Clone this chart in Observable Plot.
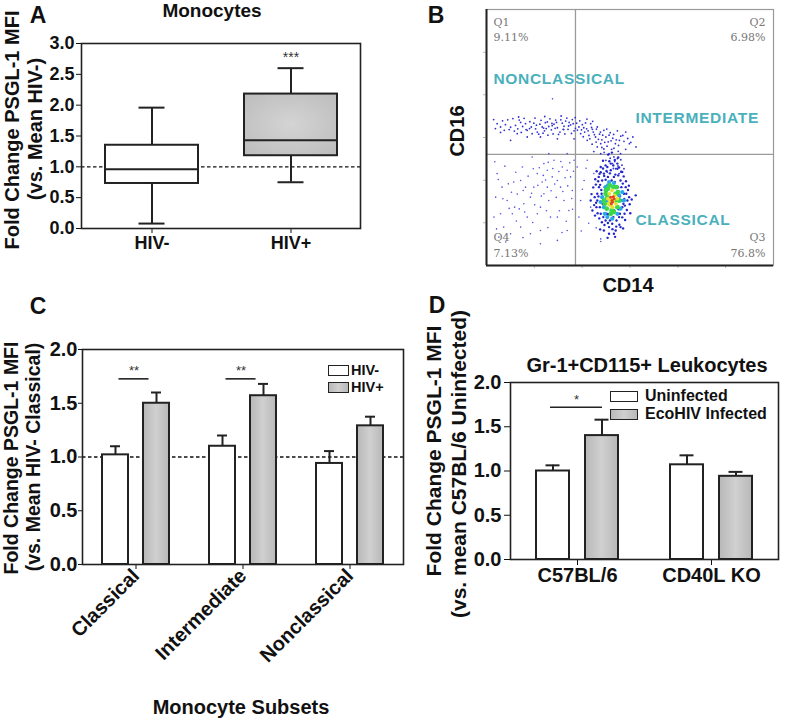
<!DOCTYPE html>
<html>
<head>
<meta charset="utf-8">
<script src="https://cdn.jsdelivr.net/npm/d3@7"></script>
<script src="https://cdn.jsdelivr.net/npm/@observablehq/plot@0.6"></script>
<style>
  body { margin: 0; background: #fff; font-family: "Liberation Sans", Arial, sans-serif; color: #111; }
  #root { position: relative; width: 791px; height: 720px; overflow: hidden; background: #fff; }
  .t { position: absolute; white-space: nowrap; font-weight: bold; line-height: 1; transform: translate(-50%, -50%); }
  .rot { transform: translate(-50%, -50%) rotate(-90deg); }
  .lt { position: absolute; white-space: nowrap; font-weight: bold; line-height: 1; transform: translate(0, -50%); }
  .box { position: absolute; border: 1.6px solid #222; box-sizing: border-box; }
  g.teal text { letter-spacing: 0.7px; }
</style>
</head>
<body>
<svg width="0" height="0" style="position:absolute">
  <defs>
    <linearGradient id="barGrad" x1="0" x2="1" y1="0" y2="0">
      <stop offset="0" stop-color="#b8b8b8"/>
      <stop offset="0.5" stop-color="#d0d0d0"/>
      <stop offset="1" stop-color="#b8b8b8"/>
    </linearGradient>
    <radialGradient id="boxGrad" cx="0.5" cy="0.5" r="0.7">
      <stop offset="0" stop-color="#d4d4d4"/>
      <stop offset="1" stop-color="#bcbcbc"/>
    </radialGradient>
  </defs>
</svg>
<div id="root"></div>
<script>
// ---------------- DATA ----------------
// Panel A: box plot summary (Monocytes)
const groupsA = ["HIV-", "HIV+"];
const whiskerLowA = [0.08, 0.75];
const q1A = [0.73, 1.18];
const medianA = [0.96, 1.43];
const q3A = [1.35, 2.18];
const whiskerHighA = [1.96, 2.60];
const yTicksA = [0, 0.5, 1, 1.5, 2, 2.5, 3];
const sigGroupA = ["HIV+"];
const sigLabelA = ["***"];
const sigLevelA = [2.78];

// Panel B: flow cytometry (CD14 vs CD16), arbitrary units 0-100
const gateXB = 31;
const gateYB = 43.4;
const ticksB = [16.7, 33.3, 50, 66.7, 83.3];
const quadNamesB = ["Q1", "Q2", "Q3", "Q4"];
const quadPctB = ["9.11%", "6.98%", "76.8%", "7.13%"];
const subsetNamesB = ["NONCLASSICAL", "INTERMEDIATE", "CLASSICAL"];
const blueBandB = [[3.7,55.4],[4.9,54.1],[6.6,55],[8.4,54],[10.1,54.7],[10.9,53.4],[11.9,55.9],[13.6,55.4],[14.2,52.8],[15.6,54.1],[16.5,55.6],[17.1,53.4],[17.7,52.1],[18.6,55.2],[19.4,54.1],[20.2,52.6],[21.2,56.1],[21.7,54.3],[22.6,53],[23.5,55.2],[24.1,56.8],[24.7,53.8],[25.6,52.1],[26.4,55.6],[27,54.4],[27.6,56.4],[28.4,53.2],[29.3,54.9],[29.9,57],[30.5,52.6],[31.4,55.6],[32.2,54.1],[32.8,51.5],[33.4,55],[34.2,52.1],[34.9,53.4],[35.7,50.8],[36.3,55.4],[37.2,52.1],[38,50.2],[38.6,54.1],[39.4,51.3],[40.2,49.1],[40.9,52.8],[41.6,50.2],[42.4,48.3],[43.1,51.9],[44,49.7],[44.9,47.6],[45.6,52.6],[46.3,48.9],[47.5,50.8],[48.5,52.1],[49.8,47.6],[51,50.2],[52.1,46.3],[14.2,50.2],[18.8,50.2],[24.7,49.5],[10.7,51.5],[8.4,48.9],[4.9,52],[35.1,48.9],[30.5,49.5],[38.6,46.3],[40.9,45.5],[44.4,45.8],[42.7,43.7],[39.8,47.6],[46.7,43.7],[45.6,41.8],[43.9,39.8],[41.6,41.1],[45,37.8],[46.2,35.9],[42.1,36.5],[39.8,43.7],[37.4,44.5],[47.9,37.8],[44.4,42.4],[20.5,55.8],[22.9,54.6],[26.9,53.1],[28.8,55.9],[31,53.6],[33.9,53.8],[36.9,53.2],[19.9,53.7],[15,53.5],[12.6,54.3],
  [2.5,57],[3.1,53.5],[5.6,56.5],[6.2,52.8],[7.4,56.9],[7.9,53.1],[9.2,57.4],[9.7,52.5],[11.4,56.8],[12.1,52],[13.1,57.5],[13.8,53.1],[15.1,56.2],[15.9,51.5],[16.9,57.6],[17.4,54.8],[18.2,51.3],[19,56.7],[19.7,51.7],[20.8,53.5],[21.4,50.9],[22.1,57.3],[22.8,55.5],[23.2,51.4],[23.9,53.6],[24.4,55.9],[25.1,51.2],[25.9,56.9],[26.7,53.2],[27.3,51.4],[28,57.6],[28.6,54.5],[29.6,51.6],[30.2,55.4],[30.9,57.8],[31.7,52.9],[32.5,56.5],[33.1,53],[33.7,50.3],[34.5,55.7],[35.4,52.6],[36,49.5],[36.6,53.9],[37.6,51.1],[38.3,53.3],[39,49.3],[39.7,52.1],[40.5,50.9],[41.2,48.1],[41.9,53.3],[42.7,50.9],[43.4,48.7],[44.3,51.2],[45.2,49.1],[46,46.9],[46.8,50.5],[47.9,48.5],[49.2,49.6],[50.3,48.1],[42,46.6],[43.6,45.4],[45.9,44.6],[41,44.2],[44.7,40.6],[46.8,41.3],[43.1,41.9],[45.8,38.9],[44.2,37.9],[47.2,39.2],[40.2,46.1],[38.2,48.2],[36.8,47.4],[48.5,45.4],[37,56.3],[35,57.2],[26,58.4],[20.3,58.2],[11.2,58]];
const blueLowB = [[3.7,35.9],[5.4,30.6],[7.2,25.4],[9,20.2],[10.7,27.9],[11.9,33.2],[13,24.1],[14.2,18.9],[15.3,26.7],[16.5,30.6],[17.7,35.9],[18.8,22.8],[20,39.8],[21.2,30.6],[21.7,25.4],[22.9,34.6],[23.5,41.1],[24.7,18.9],[25.8,30.6],[27,25.4],[28.1,37.2],[28.7,21.5],[29.9,29.3],[30.5,41.1],[21.2,37.2],[19.4,32.6],[16.3,37.8],[12.5,38.5],[9.8,22.8],[6,15],[4.9,20.2],[3.2,26.7],[8.4,12.4],[11.9,15],[18.8,13.7],[24.7,9.8],[28.1,13.7],[22.3,18.9],[15.3,12.4],[20,28],[24.7,33.2],[26.4,38.5],[29.3,34.6],[17.7,20.2],[13.6,30.6],[9.5,32.6],[2.6,18.9],[4.3,11.1],[18.8,8.5],[39.8,10.4],[39.8,9.4],[34,33.2],[32.8,25.4],[35.1,41.1],[37.4,35.9],[32.2,18.9],[36.3,22.8],[23.0,65.1],[21.7,43.7],[15.9,42.4],[28.1,43.7],[31.6,38.5],
  [2.9,40.5],[4.1,33.6],[6.4,38.8],[7.6,31.9],[8.7,28.6],[10.2,36.4],[11.4,22.1],[12.8,29.3],[14.5,34.9],[15.7,28.2],[16.8,23.7],[17.9,31.3],[18.4,38.2],[19.1,27.1],[19.8,35.2],[20.6,33.4],[21.5,40.3],[22.5,29.2],[23.1,37.9],[23.8,31.8],[24.3,26.6],[25.2,36.7],[25.9,40.6],[26.6,28.9],[27.4,34.3],[28.3,31.1],[29,40.1],[29.7,26.2],[30.3,36.8],[27.8,17.3],[25.4,21.4],[20.9,21.4],[16.1,16.8],[13.3,20.9],[10.4,17.4],[7.9,22.3],[5.7,26.1],[3.5,14.3],[6.7,9.2],[12.7,10.9],[21.4,14.8],[26.3,12.9],[30,22],[33.4,29.8],[35.6,16.5],[34.7,38],[33,13.5],[38.2,14.7]];
const blueClusterB = [[39.2,30.6],[38.6,25.4],[39.8,20.2],[40.3,33.2],[40.9,35.9],[41.5,17.6],[42.1,38.5],[42.7,15],[43.3,37.2],[43.8,16.3],[44.4,34.6],[45,13.7],[45.6,37.8],[46.2,18.9],[46.7,33.2],[47.3,22.8],[47.9,28],[48.5,30.6],[49.1,25.4],[49.7,26.7],[38.6,28],[39.5,22.8],[40.1,28],[40.7,18.9],[41.2,30.6],[41.9,20.2],[42.3,34.6],[43,17.6],[43.6,33.2],[44.2,18.9],[44.7,32.6],[45.3,17.6],[45.8,30.6],[46.5,20.2],[47,30.6],[47.7,24.1],[48.1,20.2],[48.7,28],[37.7,26.7],[38.3,22.8],[40.9,13.7],[44.4,12.4],[42.7,12.4],[46.7,15],[45.9,35.2],[39.8,38.5],[41.5,39.1],[43.3,39.8],[45.6,39.8],[47.3,36.5],[52,27.4],[36.9,21.5],[36.3,25.4],[39,27],[39.6,31.5],[40.5,24],[41,35],[46.5,27],[47.5,32],[46,22],[42.5,20],[44.5,21.5],[40,29.5],[48,26],[43,36],[44.9,35.5],[41.5,33.5],[47.2,25.5],[38.2,24.5],
  [37.2,30.5],[37.9,33.7],[38.4,36.8],[39.1,34.6],[39.8,36.4],[40.6,40.9],[41.8,36.9],[42.8,40.7],[44.2,39.1],[46.2,38.3],[47.8,34.8],[48.6,32.9],[49.3,29.5],[49.9,23.9],[48.9,21.7],[48.3,17.8],[47.3,18.8],[46.3,15.9],[45.2,15.2],[43.9,14.2],[42.3,16.6],[41.1,15.8],[40.2,16.9],[39.3,18.4],[38.7,20.4],[37.5,23.6],[37.8,19.5],[36.6,27.9],[38.1,31.6],[40.6,37.9],[44.7,41.2],[46.9,36.6],[49.6,31.2],[50.6,25.8],[50.1,20.4],[47.6,14.5],[44.8,11.2],[42.2,10.8],[39.6,14.1],[38.9,32.9],[48.2,23.4],[39.4,35.8],[45.9,42.2],[42.4,43.3],[43.7,44.1]];
const cyanB = [[40.3,26.7],[40.9,22.8],[41.5,30.6],[42.1,18.9],[42.7,32.6],[43.8,18.3],[45,30.6],[45.6,20.2],[46.7,25.4],[47.3,28.7],[39.8,24.8],[46.2,27.4],[44.4,32.2],[41.2,20.2],[42.3,31.3],[47.9,25.4],[41.9,25.4],[46.7,22.2]];
const greenB = [[40.9,25.4],[41.5,28],[41.9,22.2],[42.3,30],[43,31.3],[43.3,20.2],[44.2,30.6],[44.4,20.9],[45,28],[45.6,22.8],[46.2,25.4],[41.2,24.1],[42.1,26.7],[45,25.4],[43.6,21.5],[42.9,24.1],[45.8,28.7],[45.3,30.6],[41.6,29.3]];
const yellowB = [[42.3,26.1],[42.8,28],[43.3,23.5],[43.7,29.3],[44.2,25.4],[44.7,27.4],[45.1,24.1],[45.6,26.1],[43,25.4],[43.9,22.8],[42.6,24.1]];
const redB = [[43.3,26.7],[43.7,25.4],[44.2,26.9],[43.9,24.8],[43.5,24.1],[44.4,26.1]];

// Panel C: grouped bars (mean and SEM)
const subsetsC = ["Classical", "Intermediate", "Nonclassical"];
const statusC = ["HIV-", "HIV+"];
const hivNegMeanC = [1.02, 1.10, 0.94];
const hivNegSemC = [0.08, 0.10, 0.115];
const hivPosMeanC = [1.50, 1.57, 1.29];
const hivPosSemC = [0.10, 0.11, 0.085];
const yTicksC = [0, 0.5, 1, 1.5, 2];
const sigSubsetC = ["Classical", "Intermediate"];
const sigLabelC = ["**", "**"];
const sigLevelC = [1.727, 1.727];

// Panel D: grouped bars (mean and SEM)
const strainsD = ["C57BL/6", "CD40L KO"];
const statusD = ["Uninfected", "EcoHIV Infected"];
const uninfMeanD = [1.00, 1.07];
const uninfSemD = [0.064, 0.107];
const infMeanD = [1.40, 0.94];
const infSemD = [0.18, 0.05];
const yTicksD = [0, 0.5, 1, 1.5, 2];
const sigStrainD = ["C57BL/6"];
const sigLabelD = ["*"];
const sigLevelD = [1.72];

// ---------------- HELPERS ----------------
const root = document.getElementById("root");
function place(node, left, top) {
  node.style.position = "absolute";
  node.style.left = left + "px";
  node.style.top = top + "px";
  root.appendChild(node);
}
function label(text, x, y, size, cls = "t", extra = {}) {
  const d = document.createElement("div");
  d.className = cls;
  d.textContent = text;
  d.style.left = x + "px";
  d.style.top = y + "px";
  d.style.fontSize = size + "px";
  Object.assign(d.style, extra);
  root.appendChild(d);
  return d;
}
function legendBox(x, y, w, h, fill) {
  const d = document.createElement("div");
  d.className = "box";
  Object.assign(d.style, { left: x + "px", top: y + "px", width: w + "px", height: h + "px", background: fill });
  root.appendChild(d);
}
// insets that put a bar/tick of half-width `half` at `offset` px from the band centre
function at(band, offset, half) {
  return { insetLeft: band / 2 + offset - half, insetRight: band / 2 - offset - half };
}
const baseStyle = { fontFamily: "'Liberation Sans', Arial, sans-serif", fontWeight: "bold", color: "#111", background: "transparent", overflow: "visible" };
const GRAY = "url(#barGrad)";
const GRAY_FLAT = "linear-gradient(90deg,#b8b8b8,#d0d0d0,#b8b8b8)";

// ---------------- PANEL A ----------------
const boxesA = groupsA.map((g, i) => ({ group: g, lo: whiskerLowA[i], q1: q1A[i], med: medianA[i], q3: q3A[i], hi: whiskerHighA[i] }));
const sigA = sigGroupA.map((g, i) => ({ group: g, label: sigLabelA[i], y: sigLevelA[i] }));
const bandA = 93, capA = 13;
const plotA = Plot.plot({
  width: 370, height: 260,
  marginLeft: 81, marginRight: 10, marginTop: 43, marginBottom: 32,
  style: { ...baseStyle, fontSize: "18px" },
  x: { type: "band", domain: groupsA, paddingInner: 1 / 3, paddingOuter: 1 / 6, label: null, tickSize: 5, tickPadding: 3 },
  y: { domain: [0, 3], ticks: yTicksA, tickFormat: d3.format(".1f"), tickSize: 5, tickPadding: 2, label: null },
  color: { domain: groupsA, range: ["#ffffff", "url(#boxGrad)"] },
  marks: [
    Plot.ruleY([1], { stroke: "#111", strokeWidth: 1.4, strokeDasharray: "3.5,2.5" }),
    Plot.ruleX(boxesA, { x: "group", y1: "lo", y2: "q1", stroke: "#222", strokeWidth: 2 }),
    Plot.ruleX(boxesA, { x: "group", y1: "q3", y2: "hi", stroke: "#222", strokeWidth: 2 }),
    Plot.tickY(boxesA, { x: "group", y: "lo", stroke: "#222", strokeWidth: 2, ...at(bandA, 0, capA) }),
    Plot.tickY(boxesA, { x: "group", y: "hi", stroke: "#222", strokeWidth: 2, ...at(bandA, 0, capA) }),
    Plot.barY(boxesA, { x: "group", y1: "q1", y2: "q3", fill: "group", stroke: "#222", strokeWidth: 2 }),
    Plot.tickY(boxesA, { x: "group", y: "med", stroke: "#222", strokeWidth: 2 }),
    Plot.text(sigA, { x: "group", y: "y", text: "label", fontSize: 14, fontWeight: "normal", fill: "#333" }),
    Plot.frame({ stroke: "#222", strokeWidth: 1.6 })
  ]
});
place(plotA, 0, 0);

// ---------------- PANEL B ----------------
const toPts = (arr) => arr.map(([x, y]) => ({ x, y }));
const qText = { fill: "#777", fontFamily: "DejaVu Serif", fontSize: 11, fontWeight: "normal" };
const plotB = Plot.plot({
  width: 391, height: 300,
  marginLeft: 86, marginRight: 18, marginTop: 9, marginBottom: 35,
  style: { ...baseStyle, fontSize: "12px", fontWeight: "normal" },
  x: { domain: [0, 100] },
  y: { domain: [0, 100] },
  marks: [
    Plot.frame({ stroke: "#9a9a9a", strokeWidth: 1.2 }),
    Plot.axisX({ ticks: ticksB, tickSize: 3, tickFormat: () => "", stroke: "#bbb", label: null }),
    Plot.axisY({ ticks: ticksB, tickSize: 3, tickFormat: () => "", stroke: "#bbb", label: null }),
    Plot.ruleX([gateXB], { stroke: "#9a9a9a", strokeWidth: 1.3 }),
    Plot.ruleY([gateYB], { stroke: "#9a9a9a", strokeWidth: 1.3 }),
    Plot.dot(toPts(blueBandB), { x: "x", y: "y", r: 0.9, fill: "#3030d4", stroke: null }),
    Plot.dot(toPts(blueLowB), { x: "x", y: "y", r: 0.8, fill: "#5050e4", stroke: null }),
    Plot.dot(toPts(blueClusterB), { x: "x", y: "y", r: 1.2, fill: "#2424cc", stroke: null }),
    Plot.dot(toPts(cyanB), { x: "x", y: "y", r: 2.1, fill: "#2aa8e8", stroke: null }),
    Plot.dot(toPts(greenB), { x: "x", y: "y", r: 2.4, fill: "#3cd84a", stroke: null }),
    Plot.dot(toPts(yellowB), { x: "x", y: "y", r: 1.9, fill: "#e8e030", stroke: null }),
    Plot.dot(toPts(redB), { x: "x", y: "y", r: 1.5, fill: "#e8401c", stroke: null }),
    Plot.ruleX([0], { stroke: "#222", strokeWidth: 2 }),
    Plot.ruleY([0], { stroke: "#222", strokeWidth: 2 }),
    Plot.text([quadNamesB[0]], { frameAnchor: "top-left", dx: 7, dy: 9, ...qText }),
    Plot.text([quadPctB[0]], { frameAnchor: "top-left", dx: 7, dy: 24, ...qText }),
    Plot.text([quadNamesB[1]], { frameAnchor: "top-right", dx: -8, dy: 9, textAnchor: "end", ...qText }),
    Plot.text([quadPctB[1]], { frameAnchor: "top-right", dx: -8, dy: 24, textAnchor: "end", ...qText }),
    Plot.text([quadNamesB[2]], { frameAnchor: "bottom-right", dx: -8, dy: -25, textAnchor: "end", ...qText }),
    Plot.text([quadPctB[2]], { frameAnchor: "bottom-right", dx: -8, dy: -9, textAnchor: "end", ...qText }),
    Plot.text([quadNamesB[3]], { frameAnchor: "bottom-left", dx: 7, dy: -25, ...qText }),
    Plot.text([quadPctB[3]], { frameAnchor: "bottom-left", dx: 7, dy: -9, ...qText }),
    Plot.text([{ t: subsetNamesB[0], x: 2.4, y: 73 }, { t: subsetNamesB[1], x: 51.9, y: 57.8 }, { t: subsetNamesB[2], x: 51.9, y: 17.6 }],
      { x: "x", y: "y", text: "t", textAnchor: "start", fill: "#4ab0bc", fontSize: 15.5, fontWeight: "bold", fontFamily: "'Liberation Sans', Arial, sans-serif" })
  ]
});
plotB.querySelectorAll("g[fill='#4ab0bc']").forEach(g => g.setAttribute("class", (g.getAttribute("class") || "") + " teal"));
place(plotB, 400, 0);

// ---------------- PANEL C ----------------
const rowsC = subsetsC.flatMap((s, i) => [
  { subset: s, status: statusC[0], mean: hivNegMeanC[i], sem: hivNegSemC[i] },
  { subset: s, status: statusC[1], mean: hivPosMeanC[i], sem: hivPosSemC[i] }
]);
const sigC = sigSubsetC.map((s, i) => ({ subset: s, label: sigLabelC[i], y: sigLevelC[i] }));
const bandC = 107, offC = 20.5, halfC = 13, capC = 5;
const negC = rowsC.filter(d => d.status === statusC[0]);
const posC = rowsC.filter(d => d.status === statusC[1]);
const errMarks = (rows, xKey, band, off, cap) => [
  Plot.ruleX(rows, { x: xKey, y1: "mean", y2: d => d.mean + d.sem, dx: off, stroke: "#222", strokeWidth: 2 }),
  Plot.tickY(rows, { x: xKey, y: d => d.mean + d.sem, stroke: "#222", strokeWidth: 2, ...at(band, off, cap) })
];
const plotC = Plot.plot({
  width: 410, height: 420,
  marginLeft: 82, marginRight: 7, marginTop: 49, marginBottom: 156,
  style: { ...baseStyle, fontSize: "20px" },
  x: { type: "band", domain: subsetsC, padding: 0, label: null, tickSize: 5, tickPadding: 3, tickRotate: -45 },
  y: { domain: [0, 2], ticks: yTicksC, tickFormat: d3.format(".1f"), tickSize: 4, tickPadding: 1, label: null },
  color: { domain: statusC, range: ["#ffffff", GRAY] },
  marks: [
    Plot.ruleY([1], { stroke: "#111", strokeWidth: 1.4, strokeDasharray: "3.5,2.5" }),
    ...errMarks(negC, "subset", bandC, -offC, capC),
    ...errMarks(posC, "subset", bandC, offC, capC),
    Plot.barY(negC, { x: "subset", y: "mean", fill: "status", stroke: "#222", strokeWidth: 2, ...at(bandC, -offC, halfC) }),
    Plot.barY(posC, { x: "subset", y: "mean", fill: "status", stroke: "#222", strokeWidth: 2, ...at(bandC, offC, halfC) }),
    Plot.tickY(sigC, { x: "subset", y: "y", stroke: "#222", strokeWidth: 1.6, ...at(bandC, -2, 15) }),
    Plot.text(sigC, { x: "subset", y: "y", text: "label", dx: -2, dy: -8, fontSize: 13, fontWeight: "normal", fill: "#333" }),
    Plot.frame({ stroke: "#222", strokeWidth: 1.6 })
  ]
});
place(plotC, 0, 300);

// ---------------- PANEL D ----------------
const rowsD = strainsD.flatMap((s, i) => [
  { strain: s, status: statusD[0], mean: uninfMeanD[i], sem: uninfSemD[i] },
  { strain: s, status: statusD[1], mean: infMeanD[i], sem: infSemD[i] }
]);
const sigD = sigStrainD.map((s, i) => ({ strain: s, label: sigLabelD[i], y: sigLevelD[i] }));
const bandD = 134, offD = 24.5, halfD = 16.5, capD = 7;
const uninfD = rowsD.filter(d => d.status === statusD[0]);
const infD = rowsD.filter(d => d.status === statusD[1]);
const plotD = Plot.plot({
  width: 391, height: 300,
  marginLeft: 110, marginRight: 13, marginTop: 82, marginBottom: 41,
  style: { ...baseStyle, fontSize: "20px" },
  x: { type: "band", domain: strainsD, padding: 0, label: null, tickSize: 6, tickPadding: 2 },
  y: { domain: [0, 2], ticks: yTicksD, tickFormat: d3.format(".1f"), tickSize: 6, tickPadding: 3, label: null },
  color: { domain: statusD, range: ["#ffffff", GRAY] },
  marks: [
    ...errMarks(uninfD, "strain", bandD, -offD, capD),
    ...errMarks(infD, "strain", bandD, offD, capD),
    Plot.barY(uninfD, { x: "strain", y: "mean", fill: "status", stroke: "#222", strokeWidth: 2, ...at(bandD, -offD, halfD) }),
    Plot.barY(infD, { x: "strain", y: "mean", fill: "status", stroke: "#222", strokeWidth: 2, ...at(bandD, offD, halfD) }),
    Plot.tickY(sigD, { x: "strain", y: "y", stroke: "#222", strokeWidth: 1.6, ...at(bandD, -1, 26) }),
    Plot.text(sigD, { x: "strain", y: "y", text: "label", dx: -1, dy: -7, fontSize: 13, fontWeight: "normal", fill: "#333" }),
    Plot.frame({ stroke: "#222", strokeWidth: 1.6 })
  ]
});
place(plotD, 400, 300);

// ---------------- TEXT (titles, axis titles, legends, panel letters) ----------------
label("A", 38, 15, 23);
label("B", 436, 15, 23);
label("C", 38, 306, 23);
label("D", 437, 305, 23);

label("Monocytes", 212, 10, 19);
label("Fold Change PSGL-1 MFI", 12, 130, 20, "t rot");
label("(vs. Mean HIV-)", 35, 129, 20, "t rot");

label("CD16", 457, 131, 20, "t rot");
label("CD14", 628, 285, 20);

label("Fold Change PSGL-1 MFI", 12, 458, 19.5, "t rot");
label("(vs. Mean HIV- Classical)", 34, 457, 19.5, "t rot");
label("Monocyte Subsets", 241, 707, 20);
legendBox(328, 365, 21, 11, "#ffffff");
legendBox(328, 382, 21, 11, GRAY_FLAT);
label(statusC[0], 351, 370, 14.5, "lt");
label(statusC[1], 351, 387, 14.5, "lt");

label("Gr-1+CD115+ Leukocytes", 647, 365, 20);
label("Fold Change PSGL-1 MFI", 433, 451, 21, "t rot");
label("(vs. mean C57BL/6 Uninfected)", 458, 464, 21, "t rot");
legendBox(610, 391, 28, 11, "#ffffff");
legendBox(610, 409, 28, 11, GRAY_FLAT);
label(statusD[0], 645, 396, 16, "lt");
label(statusD[1], 645, 414, 16, "lt");
</script>
</body>
</html>
